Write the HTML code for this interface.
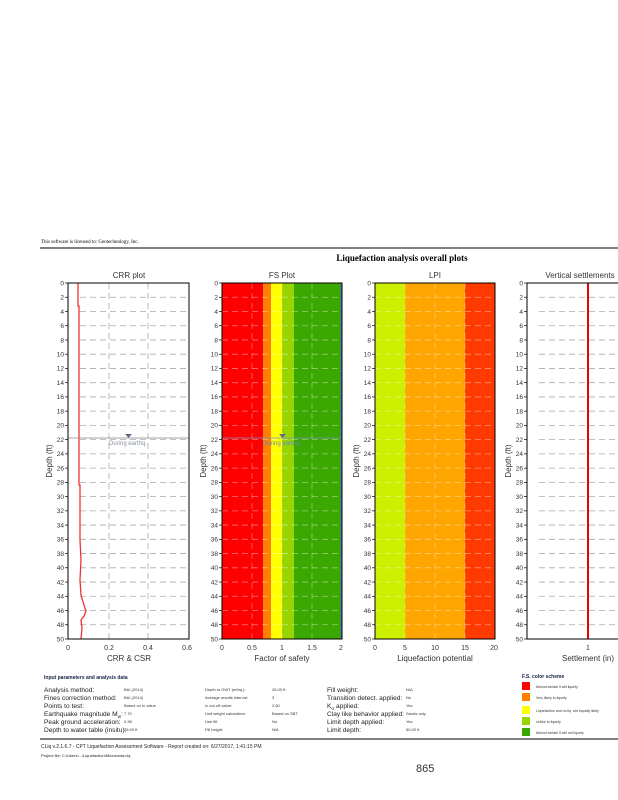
<!DOCTYPE html>
<html><head><meta charset="utf-8"><style>
body{margin:0;background:#fff;width:618px;height:800px;overflow:hidden;font-family:"Liberation Sans",sans-serif}
svg{position:absolute;left:0;top:0}
</style></head><body>
<svg id="s" width="618" height="800" xmlns="http://www.w3.org/2000/svg" font-family="Liberation Sans, sans-serif">
<text x="41" y="243" font-size="5" font-family="Liberation Serif, serif">This software is licensed to: Geotechnology, Inc.</text>
<line x1="40" y1="248" x2="618" y2="248" stroke="#000" stroke-width="1"/>
<text x="402" y="261" font-size="9" font-weight="bold" text-anchor="middle" font-family="Liberation Serif, serif">Liquefaction analysis overall plots</text>
<text x="129" y="278" font-size="8" text-anchor="middle" fill="#333">CRR plot</text>
<text x="282" y="278" font-size="8" text-anchor="middle" fill="#333">FS Plot</text>
<text x="435" y="278" font-size="8" text-anchor="middle" fill="#333">LPI</text>
<text x="580" y="278" font-size="8" text-anchor="middle" fill="#333">Vertical settlements</text>
<rect x="222" y="283" width="41" height="356" fill="#f00"/>
<rect x="263" y="283" width="8" height="356" fill="#ff8000"/>
<rect x="271" y="283" width="11" height="356" fill="#ff0"/>
<rect x="282" y="283" width="12" height="356" fill="#99d400"/>
<rect x="294" y="283" width="47" height="356" fill="#3aa800"/>
<line x1="341" y1="283" x2="341" y2="639" stroke="#4a7aa0" stroke-width="1.5"/>
<rect x="375" y="283" width="30" height="356" fill="#ccf000"/>
<rect x="405" y="283" width="60" height="356" fill="#ffa500"/>
<rect x="465" y="283" width="30" height="356" fill="#ff3a00"/>
<g id="grid"></g>
<polyline fill="none" stroke="#e33" stroke-width="1.3" points="78,283 78,306 79,306 79,447 79,485 80,485 80,540 81,560 80,580 81,595 83,602 86,611 84,616 81,620 82,628 81,639"/>
<line x1="588" y1="283" x2="588" y2="639" stroke="#e00" stroke-width="2"/>
<line x1="68" y1="438" x2="189" y2="438" stroke="#888" stroke-width="0.8"/>
<path d="M125,434 L132,434 L128.5,438Z" fill="#668"/>
<text x="128" y="445" font-size="6" fill="#8890a0" text-anchor="middle">During earthq.</text>
<line x1="222" y1="438" x2="341" y2="438" stroke="#7a9ac0" stroke-width="0.8"/>
<path d="M279,434 L286,434 L282.5,438Z" fill="#668"/>
<text x="282" y="445" font-size="6" fill="#6688bb" text-anchor="middle">During earthq.</text>
<rect x="68" y="283" width="121" height="356" fill="none" stroke="#000" stroke-width="1"/>
<rect x="222" y="283" width="120" height="356" fill="none" stroke="#000" stroke-width="1"/>
<rect x="375" y="283" width="120" height="356" fill="none" stroke="#000" stroke-width="1"/>
<rect x="527" y="283" width="100" height="356" fill="none" stroke="#000" stroke-width="1"/>
<g font-size="7" fill="#333" text-anchor="middle">
<text x="68" y="650">0</text><text x="109" y="650">0.2</text><text x="148" y="650">0.4</text><text x="187" y="650">0.6</text>
<text x="129" y="661" font-size="8">CRR &amp; CSR</text>
<text x="222" y="650">0</text><text x="252" y="650">0.5</text><text x="282" y="650">1</text><text x="312" y="650">1.5</text><text x="341" y="650">2</text>
<text x="282" y="661" font-size="8">Factor of safety</text>
<text x="375" y="650">0</text><text x="405" y="650">5</text><text x="435" y="650">10</text><text x="465" y="650">15</text><text x="494" y="650">20</text>
<text x="435" y="661" font-size="8">Liquefaction potential</text>
<text x="588" y="650">1</text>
<text x="588" y="661" font-size="8">Settlement (in)</text>
</g>
<g font-size="8" fill="#333" text-anchor="middle">
<text transform="translate(52,461) rotate(-90)">Depth (ft)</text>
<text transform="translate(206,461) rotate(-90)">Depth (ft)</text>
<text transform="translate(359,461) rotate(-90)">Depth (ft)</text>
<text transform="translate(511,461) rotate(-90)">Depth (ft)</text>
</g>
<text x="44" y="679" font-size="5" font-weight="bold" fill="#124">Input parameters and analysis data</text>
<g font-size="6.6" fill="#222">
<text x="44" y="692">Analysis method:</text><text x="44" y="700">Fines correction method:</text><text x="44" y="708">Points to test:</text><text x="44" y="716">Earthquake magnitude M<tspan font-size="4.5" dy="2">w</tspan><tspan dy="-2">:</tspan></text><text x="44" y="724">Peak ground acceleration:</text><text x="44" y="732">Depth to water table (insitu):</text>
<text x="327" y="692">Fill weight:</text><text x="327" y="700">Transition detect. applied:</text><text x="327" y="708">K<tspan font-size="4.5" dy="2">σ</tspan><tspan dy="-2"> applied:</tspan></text><text x="327" y="716">Clay like behavior applied:</text><text x="327" y="724">Limit depth applied:</text><text x="327" y="732">Limit depth:</text>
</g>
<g font-size="4" fill="#333">
<text x="124" y="691">B&amp;I (2014)</text><text x="124" y="699">B&amp;I (2014)</text><text x="124" y="707">Based on Ic value</text><text x="124" y="715">7.70</text><text x="124" y="723">0.38</text><text x="124" y="731">26.00 ft</text>
<text x="205" y="691">Depth to GWT (erthq.):</text><text x="205" y="699">Average results interval:</text><text x="205" y="707">Ic cut-off value:</text><text x="205" y="715">Unit weight calculation:</text><text x="205" y="723">Use fill:</text><text x="205" y="731">Fill height:</text>
<text x="272" y="691">26.00 ft</text><text x="272" y="699">3</text><text x="272" y="707">2.60</text><text x="272" y="715">Based on SBT</text><text x="272" y="723">No</text><text x="272" y="731">N/A</text>
<text x="406" y="691">N/A</text><text x="406" y="699">No</text><text x="406" y="707">Yes</text><text x="406" y="715">Sands only</text><text x="406" y="723">Yes</text><text x="406" y="731">50.00 ft</text>
</g>
<text x="522" y="678" font-size="5" font-weight="bold" fill="#124">F.S. color scheme</text>
<rect x="522" y="682" width="8" height="8" fill="#f00"/>
<rect x="522" y="693" width="8" height="8" fill="#ff8000"/>
<rect x="522" y="706" width="8" height="8" fill="#ff0"/>
<rect x="522" y="717" width="8" height="8" fill="#99d400"/>
<rect x="522" y="728" width="8" height="8" fill="#3aa800"/>
<g font-size="3.5" fill="#333">
<text x="536" y="688">Almost certain it will liquefy</text><text x="536" y="699">Very likely to liquefy</text><text x="536" y="712">Liquefaction and no liq. are equally likely</text><text x="536" y="723">Unlike to liquefy</text><text x="536" y="734">Almost certain it will not liquefy</text>
</g>
<line x1="40" y1="739" x2="618" y2="739" stroke="#000" stroke-width="1"/>
<text x="41" y="748" font-size="5" fill="#222">CLiq v.2.1.6.7 - CPT Liquefaction Assessment Software - Report created on: 6/27/2017, 1:41:15 PM</text>
<text x="41" y="757" font-size="4" fill="#222">Project file: C:\Users\...\Liquefaction\Microbiota.clq</text>
<text x="416" y="772" font-size="11" fill="#333">865</text>
</svg>
<script>
var g=document.getElementById('grid'),ns='http://www.w3.org/2000/svg',s=document.getElementById('s');
function L(x1,y1,x2,y2,c,d,w,p){var l=document.createElementNS(ns,'line');l.setAttribute('x1',x1);l.setAttribute('y1',y1);l.setAttribute('x2',x2);l.setAttribute('y2',y2);l.setAttribute('stroke',c);l.setAttribute('stroke-width',w||0.7);if(d)l.setAttribute('stroke-dasharray',d);(p||g).appendChild(l);}
function T(x,y,t){var e=document.createElementNS(ns,'text');e.setAttribute('x',x);e.setAttribute('y',y);e.setAttribute('font-size','6.5');e.setAttribute('fill','#333');e.setAttribute('text-anchor','end');e.textContent=t;s.appendChild(e);}
var plots=[[68,189,'#aaa'],[222,341,'rgba(255,255,255,0.45)'],[375,495,'rgba(255,255,255,0.45)'],[527,618,'#aaa']];
plots.forEach(function(p,k){for(var i=0;i<=25;i++){var y=283+i*356/25;if(i>0&&i<25)L(p[0]+(k==0||k==3?12:0),y,p[1],y,p[2],'6,4',0.8);L(p[0]-3,y,p[0],y,'#000');T(p[0]-4,y+2.3,String(i*2));}});
[109,148].forEach(function(x){L(x,283,x,639,'#aaa','6,4',0.8);});
[252,282,312].forEach(function(x){L(x,283,x,639,'rgba(255,255,255,0.4)','6,4',0.8);});
[405,435,465].forEach(function(x){L(x,283,x,639,'rgba(255,255,255,0.4)','6,4',0.8);});
</script>
</body></html>
